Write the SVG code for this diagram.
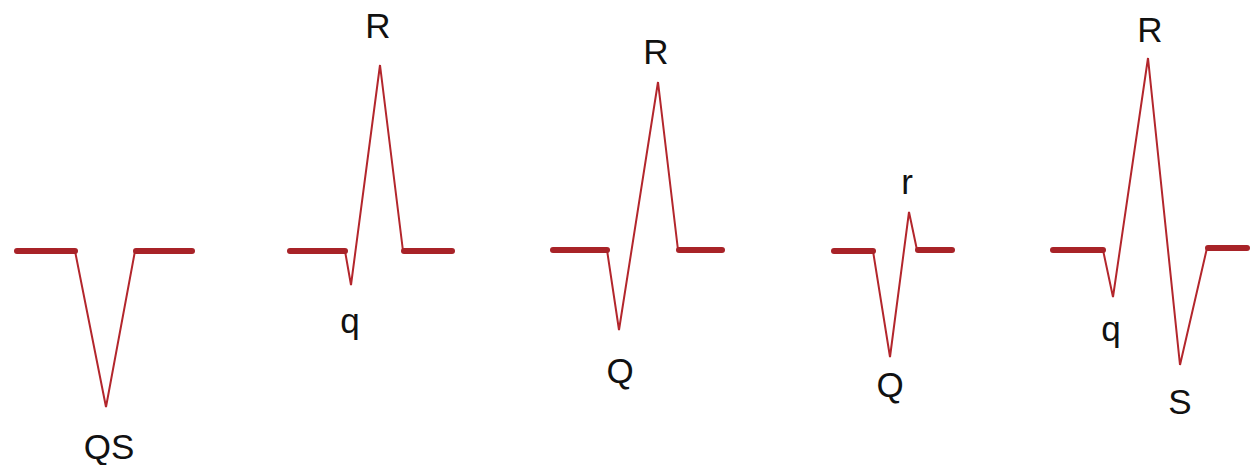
<svg xmlns="http://www.w3.org/2000/svg" width="1257" height="465" viewBox="0 0 1257 465">
<style>
.w{fill:none;stroke:#b3262c;stroke-width:2;stroke-linejoin:miter;stroke-linecap:round}
.b{fill:none;stroke:#a82328;stroke-width:6;stroke-linecap:round}
.t{font-family:"Liberation Sans",Arial,sans-serif;font-size:35px;fill:#111;text-anchor:middle}
</style>
<rect width="1257" height="465" fill="#fff"/>
<g id="qs">
<polyline class="w" points="75,251 106,407 135,251"/>
<line class="b" x1="17" y1="251" x2="75" y2="251"/>
<line class="b" x1="136" y1="251" x2="192" y2="251"/>
<text class="t" x="109" y="459">QS</text>
</g>
<g id="qR">
<polyline class="w" points="345,251 351,285 380,65 403,251"/>
<line class="b" x1="290" y1="251" x2="345" y2="251"/>
<line class="b" x1="404" y1="251" x2="452" y2="251"/>
<text class="t" x="378" y="38">R</text>
<text class="t" x="350" y="333">q</text>
</g>
<g id="QR">
<polyline class="w" points="607,250 619,330 658,82 678,250"/>
<line class="b" x1="553" y1="250" x2="607" y2="250"/>
<line class="b" x1="679" y1="250" x2="722" y2="250"/>
<text class="t" x="656" y="64">R</text>
<text class="t" x="620" y="383">Q</text>
</g>
<g id="Qr">
<polyline class="w" points="873,251 890,357 909,212 917,250"/>
<line class="b" x1="834" y1="251" x2="873" y2="251"/>
<line class="b" x1="918" y1="250" x2="952" y2="250"/>
<text class="t" x="907" y="194">r</text>
<text class="t" x="890" y="397">Q</text>
</g>
<g id="qRS">
<polyline class="w" points="1103,250 1113,297 1148,58 1180,365 1207,248"/>
<line class="b" x1="1053" y1="250" x2="1103" y2="250"/>
<line class="b" x1="1208" y1="248" x2="1247" y2="248"/>
<text class="t" x="1150" y="42">R</text>
<text class="t" x="1111" y="341">q</text>
<text class="t" x="1180" y="414">S</text>
</g>
</svg>
